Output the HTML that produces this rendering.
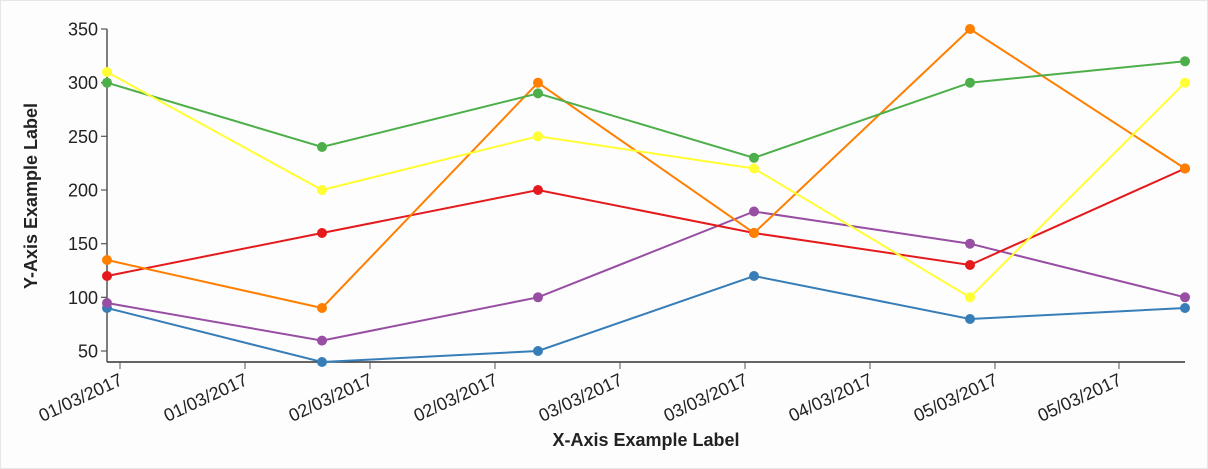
<!DOCTYPE html>
<html><head><style>
html,body{margin:0;padding:0;background:#fdfdfd;}
svg{display:block;font-family:"Liberation Sans",Arial,sans-serif;}
</style></head><body>
<svg width="1208" height="469" viewBox="0 0 1208 469">
<rect x="0.5" y="0.5" width="1207" height="468" fill="#fdfdfd" stroke="#e6e6e6"/>
<g id="yaxis" font-size="18" fill="#222" text-anchor="end">
<line x1="107" y1="29" x2="107" y2="362" stroke="#555" stroke-width="1.5"/>
<g stroke="#555" stroke-width="1.2">
<line x1="101" y1="29" x2="107" y2="29"/><line x1="101" y1="82.7" x2="107" y2="82.7"/>
<line x1="101" y1="136.3" x2="107" y2="136.3"/><line x1="101" y1="190" x2="107" y2="190"/>
<line x1="101" y1="243.7" x2="107" y2="243.7"/><line x1="101" y1="297.3" x2="107" y2="297.3"/>
<line x1="101" y1="351" x2="107" y2="351"/></g>
<text x="98" y="35.5">350</text><text x="98" y="89.2">300</text><text x="98" y="142.8">250</text>
<text x="98" y="196.5">200</text><text x="98" y="250.2">150</text><text x="98" y="303.8">100</text>
<text x="98" y="357.5">50</text>
</g>
<text transform="translate(37,196) rotate(-90)" text-anchor="middle" font-size="18" font-weight="bold" fill="#222">Y-Axis Example Label</text>
<line x1="107" y1="362" x2="1185" y2="362" stroke="#333" stroke-width="1.5"/>
<g stroke="#555" stroke-width="1">
<line x1="120" y1="362" x2="120" y2="369"/><line x1="245" y1="362" x2="245" y2="369"/>
<line x1="370" y1="362" x2="370" y2="369"/><line x1="495" y1="362" x2="495" y2="369"/>
<line x1="620" y1="362" x2="620" y2="369"/><line x1="745" y1="362" x2="745" y2="369"/>
<line x1="870" y1="362" x2="870" y2="369"/><line x1="995" y1="362" x2="995" y2="369"/>
<line x1="1119" y1="362" x2="1119" y2="369"/></g>
<g font-size="18" fill="#222" text-anchor="end">
<text transform="translate(124,384) rotate(-25)">01/03/2017</text>
<text transform="translate(249,384) rotate(-25)">01/03/2017</text>
<text transform="translate(374,384) rotate(-25)">02/03/2017</text>
<text transform="translate(499,384) rotate(-25)">02/03/2017</text>
<text transform="translate(624,384) rotate(-25)">03/03/2017</text>
<text transform="translate(749,384) rotate(-25)">03/03/2017</text>
<text transform="translate(874,384) rotate(-25)">04/03/2017</text>
<text transform="translate(999,384) rotate(-25)">05/03/2017</text>
<text transform="translate(1123,384) rotate(-25)">05/03/2017</text>
</g>
<text x="646" y="446" text-anchor="middle" font-size="18" font-weight="bold" fill="#222">X-Axis Example Label</text>
<g fill="none" stroke-width="2">
<polyline stroke="#377eb8" points="107,308 322,362 538,351 754,276 970,319 1185,308"/>
<polyline stroke="#984ea3" points="107,303 322,340.6 538,297.3 754,211.5 970,243.7 1185,297.3"/>
<polyline stroke="#e41a1c" points="107,276 322,233 538,190 754,233 970,265 1185,168.5"/>
<polyline stroke="#ff7f00" points="107,260 322,308 538,82.7 754,233 970,29 1185,168.5"/>
<polyline stroke="#4daf4a" points="107,82.7 322,147 538,93.4 754,157.8 970,82.7 1185,61.3"/>
<polyline stroke="#ffff33" points="107,72 322,190 538,136.3 754,168.5 970,297.3 1185,82.7"/>
</g>
<g fill="#377eb8"><circle cx="107" cy="308" r="5"/><circle cx="322" cy="362" r="5"/><circle cx="538" cy="351" r="5"/><circle cx="754" cy="276" r="5"/><circle cx="970" cy="319" r="5"/><circle cx="1185" cy="308" r="5"/></g>
<g fill="#984ea3"><circle cx="107" cy="303" r="5"/><circle cx="322" cy="340.6" r="5"/><circle cx="538" cy="297.3" r="5"/><circle cx="754" cy="211.5" r="5"/><circle cx="970" cy="243.7" r="5"/><circle cx="1185" cy="297.3" r="5"/></g>
<g fill="#e41a1c"><circle cx="107" cy="276" r="5"/><circle cx="322" cy="233" r="5"/><circle cx="538" cy="190" r="5"/><circle cx="754" cy="233" r="5"/><circle cx="970" cy="265" r="5"/><circle cx="1185" cy="168.5" r="5"/></g>
<g fill="#ff7f00"><circle cx="107" cy="260" r="5"/><circle cx="322" cy="308" r="5"/><circle cx="538" cy="82.7" r="5"/><circle cx="754" cy="233" r="5"/><circle cx="970" cy="29" r="5"/><circle cx="1185" cy="168.5" r="5"/></g>
<g fill="#4daf4a"><circle cx="107" cy="82.7" r="5"/><circle cx="322" cy="147" r="5"/><circle cx="538" cy="93.4" r="5"/><circle cx="754" cy="157.8" r="5"/><circle cx="970" cy="82.7" r="5"/><circle cx="1185" cy="61.3" r="5"/></g>
<g fill="#ffff33"><circle cx="107" cy="72" r="5"/><circle cx="322" cy="190" r="5"/><circle cx="538" cy="136.3" r="5"/><circle cx="754" cy="168.5" r="5"/><circle cx="970" cy="297.3" r="5"/><circle cx="1185" cy="82.7" r="5"/></g>
</svg>
</body></html>
